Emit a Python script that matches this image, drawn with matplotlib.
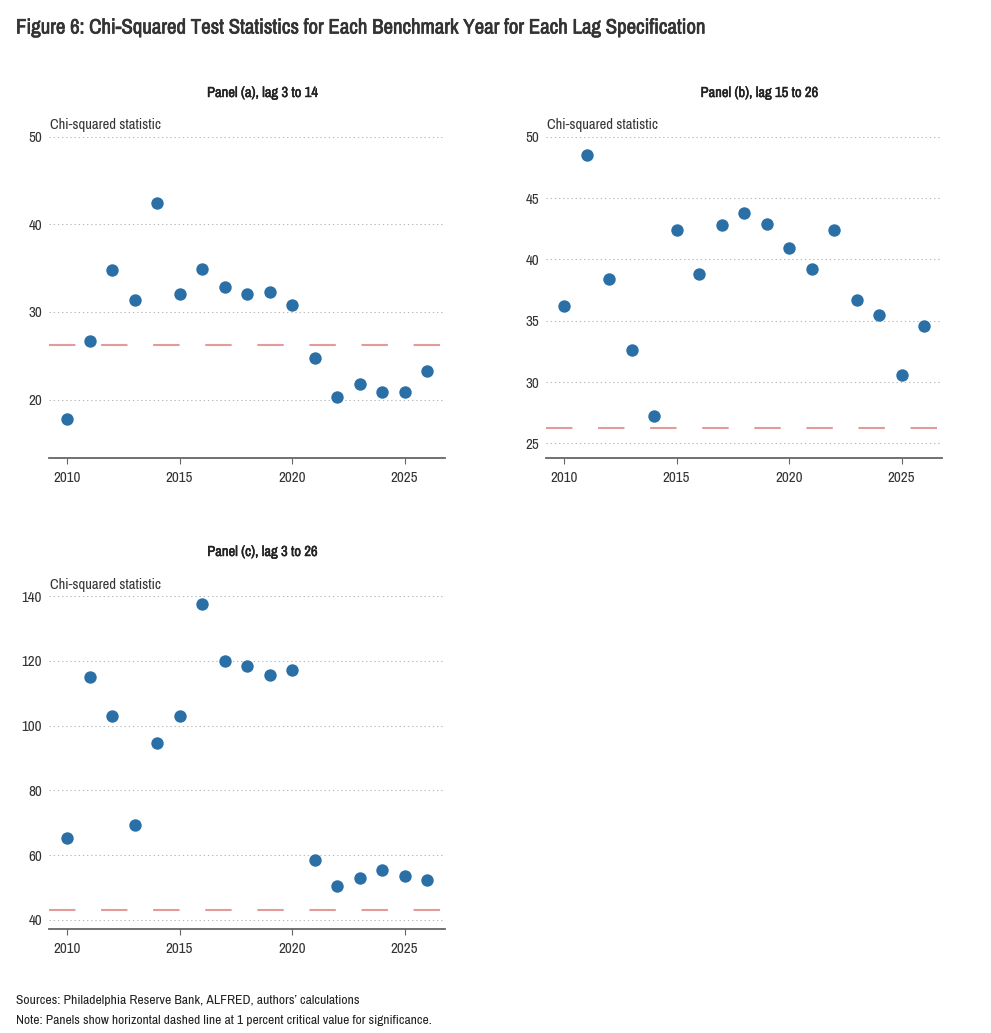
import matplotlib
matplotlib.use("Agg")
import matplotlib.pyplot as plt
from matplotlib import font_manager as fm
import matplotlib.patheffects as pe

# ---------------- data ----------------
years = list(range(2010, 2027))
panel_a = [17.8, 26.7, 34.8, 31.4, 42.4, 32.1, 34.9, 32.9, 32.1, 32.3, 30.8,
           24.7, 20.3, 21.8, 20.9, 20.9, 23.3]
panel_b = [36.2, 48.5, 38.4, 32.6, 27.2, 42.4, 38.8, 42.8, 43.8, 42.9, 40.9,
           39.2, 42.4, 36.7, 35.5, 30.6, 34.6]
panel_c = [65.3, 115.1, 103.1, 69.3, 94.6, 102.9, 137.4, 120.0, 118.3, 115.5, 117.2,
           58.6, 50.4, 52.8, 55.4, 53.6, 52.3]
crit_a = 26.22
crit_b = 26.22
crit_c = 42.98
titles = ["Panel (a), lag 3 to 14", "Panel (b), lag 15 to 26", "Panel (c), lag 3 to 26"]
yticks_a = [20, 30, 40, 50]
yticks_b = [25, 30, 35, 40, 45, 50]
yticks_c = [40, 60, 80, 100, 120, 140]
xticks = [2010, 2015, 2020, 2025]
ylabel = "Chi-squared statistic"
fig_title = "Figure 6: Chi-Squared Test Statistics for Each Benchmark Year for Each Lag Specification"
source = "Sources: Philadelphia Reserve Bank, ALFRED, authors\u2019 calculations"
note = "Note: Panels show horizontal dashed line at 1 percent critical value for significance."

# ---------------- font ----------------
names = sorted({f.name for f in fm.fontManager.ttflist})
cond = [n for n in names if ("Narrow" in n or "Condensed" in n)]
family = cond[0] if cond else "Roboto"
plt.rcParams["font.family"] = [family, "DejaVu Sans"]
plt.rcParams["lines.scale_dashes"] = False

W, H = 991, 1033
fig = plt.figure(figsize=(W / 100, H / 100), dpi=100)

DOT = "#2a6fa6"
RED = "#e39a9a"
TXT = "#333333"


def make_ax(l, t, r, b):
    return fig.add_axes([l / W, 1 - b / H, (r - l) / W, (b - t) / H])


def style(ax, vals, crit, yticks, ylim):
    ax.scatter(years, vals, s=80, color=DOT, zorder=3, linewidths=0)
    ax.axhline(crit, color=RED, lw=1.5, dashes=(19, 18.5), zorder=2)
    ax.set_xlim(2009.2, 2026.8)
    ax.set_ylim(*ylim)
    ax.set_yticks(yticks)
    ax.set_xticks(xticks)
    ax.grid(axis="y", color="#bbbbbb", linestyle=(0, (1, 2)), linewidth=0.8)
    ax.set_axisbelow(True)
    for s in ["left", "right", "top"]:
        ax.spines[s].set_visible(False)
    ax.spines["bottom"].set_color("#666666")
    ax.spines["bottom"].set_linewidth(1.3)
    ax.tick_params(axis="y", length=0, pad=5, labelsize=10.8, labelcolor=TXT)
    ax.tick_params(axis="x", length=4, width=0.8, color="#666666", pad=5,
                   labelsize=10.8, labelcolor=TXT)
    return ax


ax_a = make_ax(49, 136.7, 445, 458.3)
style(ax_a, panel_a, crit_a, yticks_a, (13.3, 50))
ax_b = make_ax(546, 136.7, 942, 458.3)
style(ax_b, panel_b, crit_b, yticks_b, (23.78, 50))
ax_c = make_ax(49, 596, 445, 929.3)
style(ax_c, panel_c, crit_c, yticks_c, (37.1, 140))

bold = [pe.withStroke(linewidth=0.35, foreground="#222222")]
for (l, r, ty, ly, ttl) in [(49, 445, 93, 125, titles[0]), (546, 942, 93, 125, titles[1]),
                            (49, 445, 552, 585, titles[2])]:
    fig.text(((l + r) / 2 + 16) / W, 1 - ty / H, ttl, ha="center", va="center",
             fontsize=10.5, fontweight="bold", color="#222222", path_effects=bold)
    fig.text((l + 1) / W, 1 - ly / H, ylabel, ha="left", va="center",
             fontsize=10.5, color=TXT)

fig.text(16 / W, 1 - 28 / H, fig_title, ha="left", va="center", fontsize=15,
         fontweight="bold", color="#333333",
         path_effects=[pe.withStroke(linewidth=0.5, foreground="#333333")])
fig.text(16 / W, 1 - 1000 / H, source, ha="left", va="center", fontsize=9.8, color="#222222")
fig.text(16 / W, 1 - 1020 / H, note, ha="left", va="center", fontsize=9.7, color="#222222")

fig.savefig("out.png", dpi=100, facecolor="white")
